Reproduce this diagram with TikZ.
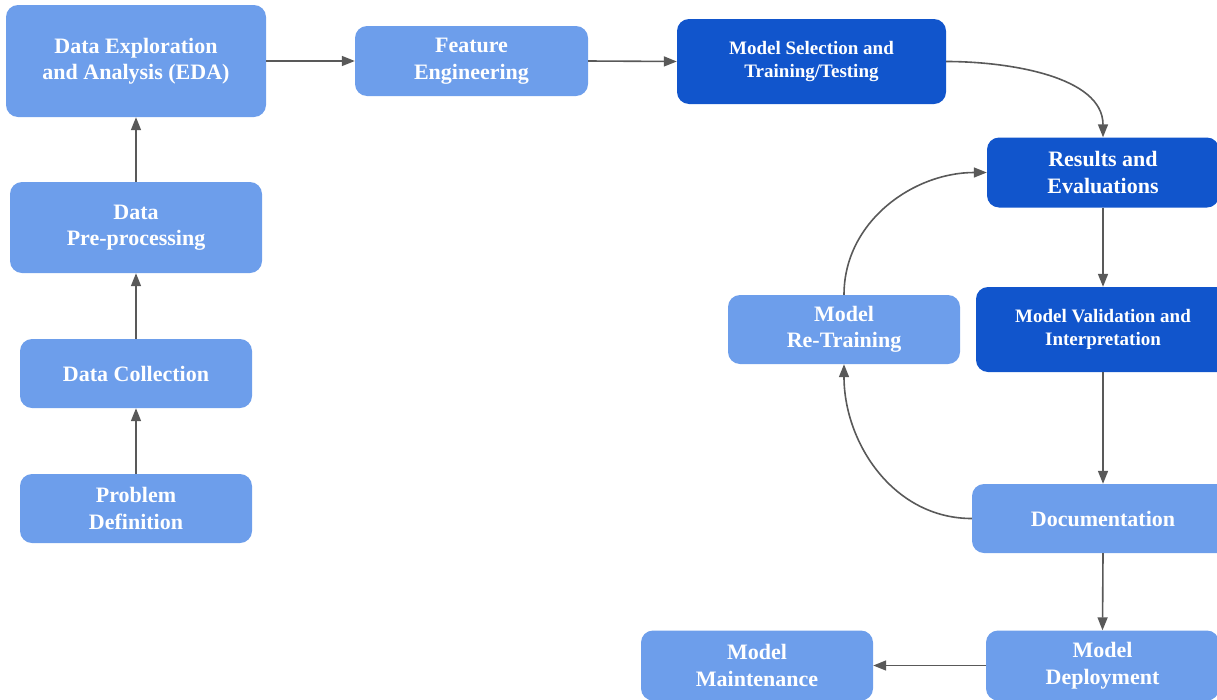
\documentclass[tikz,border=0pt]{standalone}
\usepackage{fontspec}
\setmainfont{Liberation Serif}
\usetikzlibrary{arrows.meta}
\definecolor{lightb}{HTML}{6D9EEB}
\definecolor{darkb}{HTML}{1155CC}
\definecolor{arr}{HTML}{595959}
\begin{document}
\begin{tikzpicture}[x=1pt,y=-1pt,
  box/.style={fill=lightb, draw=none, rounded corners=12pt, text=white, font=\bfseries\fontsize{22}{26.5}\selectfont, align=center, inner sep=0pt},
  dbox/.style={box, fill=darkb, font=\bfseries\fontsize{19}{23}\selectfont},
  conn/.style={draw=arr, line width=1.6pt, -{Triangle[length=13pt,width=10pt]}}]
\useasboundingbox (0,0) rectangle (1217,699);
\node[box, minimum width=260pt, minimum height=112pt] (eda) at (136,61) {Data Exploration\\and Analysis (EDA)};
\node[box, minimum width=233pt, minimum height=70pt] (fe) at (471.5,61) {Feature\\Engineering};
\node[dbox, minimum width=269pt, minimum height=85pt] (ms) at (811.5,61.5) {Model Selection and\\Training/Testing};
\node[dbox, font=\bfseries\fontsize{22}{26.5}\selectfont, minimum width=232pt, minimum height=70pt] (res) at (1103,172.5) {Results and\\Evaluations};
\node[dbox, minimum width=254pt, minimum height=85pt] (val) at (1103,329.5) {Model Validation and\\Interpretation};
\node[box, minimum width=262pt, minimum height=69pt] (doc) at (1103,518.5) {Documentation};
\node[box, minimum width=233pt, minimum height=70pt] (dep) at (1102.5,665.5) {Model\\Deployment};
\node[box, minimum width=232pt, minimum height=70pt] (mnt) at (757,665.5) {Model\\Maintenance};
\node[box, minimum width=232pt, minimum height=69pt] (rt) at (844,329.5) {Model\\Re-Training};
\node[box, minimum width=252pt, minimum height=91pt] (pre) at (136,227.5) {Data\\Pre-processing};
\node[box, minimum width=232pt, minimum height=69pt] (dc) at (136,373.5) {Data Collection};
\node[box, minimum width=232pt, minimum height=69pt] (pd) at (136,508.5) {Problem\\Definition};
\draw[conn] (pd.north) -- (dc.south);
\draw[conn] (dc.north) -- (pre.south);
\draw[conn] (pre.north) -- (eda.south);
\draw[conn] (eda.east) -- (fe.west);
\draw[conn] (fe.east) -- (ms.west);
\draw[conn] (ms.east) to[out=0,in=90,looseness=0.9] (res.north);
\draw[conn] (res.south) -- (val.north);
\draw[conn] (val.south) -- (doc.north);
\draw[conn] (doc.south) -- (dep.north);
\draw[conn] (dep.west) -- (mnt.east);
\draw[conn] (doc.west) to[out=180,in=-90] (rt.south);
\draw[conn] (rt.north) to[out=90,in=180] (res.west);
\end{tikzpicture}
\end{document}
